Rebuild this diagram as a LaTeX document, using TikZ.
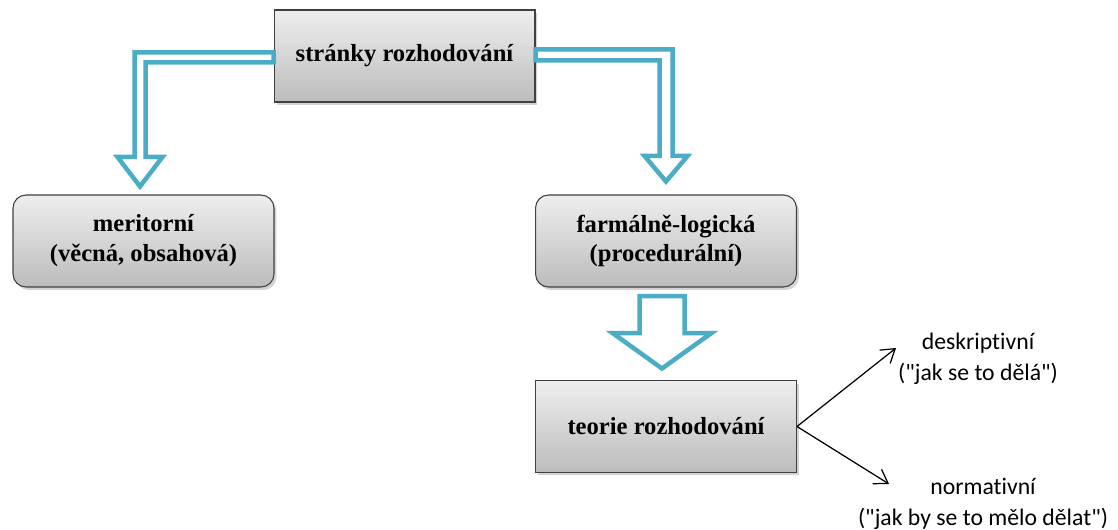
\documentclass[tikz,border=0pt]{standalone}
\usepackage{fontspec}
\setmainfont{Liberation Serif}
\newfontfamily\carlito[Ligatures=NoCommon]{Carlito}
\usetikzlibrary{calc,shadows,arrows.meta}
\definecolor{arrowblue}{HTML}{4BACC6}
\definecolor{boxtop}{RGB}{238,238,238}
\definecolor{boxbot}{RGB}{188,188,188}
\definecolor{boxline}{RGB}{64,64,64}
\begin{document}
\begin{tikzpicture}[x=0.02cm,y=-0.02cm,
    box/.style={draw=boxline,line width=0.6pt,top color=boxtop,bottom color=boxbot,
        minimum width=5.22cm,minimum height=1.84cm,inner sep=0pt,align=center,
        font=\fontsize{14}{17}\selectfont\bfseries,
        drop shadow={shadow xshift=0.05cm,shadow yshift=-0.06cm,opacity=0.35}},
    roundbox/.style={box,rounded corners=0.26cm},
    hollow/.style={draw=arrowblue,line width=0.09cm,fill=white},
    thin/.style={-{Straight Barb[length=0.26cm,width=0.34cm]},line width=0.7pt},
    note/.style={align=center,font=\carlito\fontsize{13.5}{17.5}\selectfont}]
        \useasboundingbox (0,0) rectangle (1118,530);

        %boxes
        \node[box] (top) at (404.5,56) {stránky rozhodování};
        \node[roundbox] (meri) at (143.5,241) {meritorní\\(věcná, obsahová)};
        \node[roundbox] (farm) at (666,241) {farmálně-logická\\(procedurální)};
        \node[box] (teo) at (666,426.5) {teorie rozhodování};

        %block arrows
        \coordinate (lt) at ($(meri.north)+(-3.5,-8)$);
        \coordinate (rt) at ($(farm.north)+(0,-13)$);
        \draw[hollow] ($(top.west)+(0,-3.5)$) -| ($(lt)+(-5.5,-29.5)$) -- ++(-17,0) -- (lt)
            -- ++(22.5,-29.5) -- ++(-17,0) |- ($(top.west)+(0,6.5)$) -- cycle;
        \draw[hollow] ($(top.east)+(0,-6.5)$) -| ($(rt)+(6.5,-25.5)$) -- ++(15,0) -- (rt)
            -- ++(-21.5,-25.5) -- ++(15,0) |- ($(top.east)+(0,4.5)$) -- cycle;
        \draw[hollow] ($(farm.south)+(-26.5,8.5)$) -- ++(45,0) -- ++(0,37) -- ++(27,0)
            -- ++(-49.5,35.5) -- ++(-49.5,-35.5) -- ++(27,0) -- cycle;

        %kinds of theory
        \node[note] (desk) at (978,359) {deskriptivní\\("jak se to dělá")};
        \node[note] (norm) at (983,504) {normativní\\("jak by se to mělo dělat")};
        \coordinate (dt) at (896,348);
        \coordinate (nt) at (889,484);
        \draw[thin] (teo.east) -- (dt);
        \draw[thin] (teo.east) -- (nt);
    \end{tikzpicture}
\end{document}
